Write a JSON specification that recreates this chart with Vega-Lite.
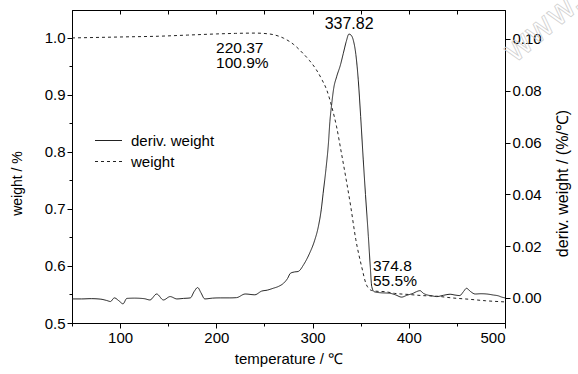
{
  "$schema": "https://vega.github.io/schema/vega-lite/v6.json",
  "width": 433,
  "height": 313,
  "autosize": {"type": "none"},
  "padding": {"left": 72, "top": 10, "right": 73, "bottom": 51},
  "background": "white",
  "config": {
    "font": "Liberation Sans",
    "view": {"stroke": "black", "strokeWidth": 1},
    "axis": {
      "labelFontSize": 15, "titleFontSize": 14, "titleFontWeight": "normal",
      "labelColor": "black", "titleColor": "black", "domainColor": "black",
      "tickColor": "black", "grid": false, "labelFont": "Liberation Sans", "titleFont": "Liberation Sans"
    },
    "legend": {"labelFont": "Liberation Sans"}
  },
  "datasets": {
    "weight": [
      {"T": 50, "w": 1.000}, {"T": 80, "w": 1.001}, {"T": 110, "w": 1.002}, {"T": 140, "w": 1.003},
      {"T": 170, "w": 1.005}, {"T": 200, "w": 1.007}, {"T": 220, "w": 1.008}, {"T": 240, "w": 1.0085},
      {"T": 255, "w": 1.007}, {"T": 265, "w": 1.003}, {"T": 270, "w": 0.9995}, {"T": 280, "w": 0.989},
      {"T": 290, "w": 0.973}, {"T": 297, "w": 0.960}, {"T": 304, "w": 0.944}, {"T": 310, "w": 0.926},
      {"T": 314.7, "w": 0.909}, {"T": 320, "w": 0.879}, {"T": 325, "w": 0.844}, {"T": 330, "w": 0.798},
      {"T": 335, "w": 0.751}, {"T": 339.7, "w": 0.704}, {"T": 345, "w": 0.646}, {"T": 351, "w": 0.599},
      {"T": 356, "w": 0.567}, {"T": 361.5, "w": 0.557}, {"T": 368, "w": 0.5555}, {"T": 375, "w": 0.555},
      {"T": 385, "w": 0.552}, {"T": 400, "w": 0.550}, {"T": 415, "w": 0.548}, {"T": 429, "w": 0.547},
      {"T": 445, "w": 0.544}, {"T": 463, "w": 0.5416}, {"T": 480, "w": 0.539}, {"T": 500, "w": 0.537}
    ],
    "deriv": [
      {"T": 50, "d": -0.0004}, {"T": 60, "d": -0.0004}, {"T": 70, "d": -0.0003}, {"T": 80, "d": -0.0005},
      {"T": 86, "d": -0.0010}, {"T": 90, "d": -0.0014}, {"T": 94, "d": 0.0000}, {"T": 99, "d": -0.0012},
      {"T": 103, "d": -0.0023}, {"T": 107, "d": -0.0002}, {"T": 115, "d": -0.0001}, {"T": 125, "d": -0.0003},
      {"T": 131, "d": -0.0008}, {"T": 138, "d": 0.0015}, {"T": 145, "d": -0.0008}, {"T": 152, "d": 0.0005},
      {"T": 159, "d": -0.0004}, {"T": 166, "d": -0.0002}, {"T": 173, "d": 0.0000}, {"T": 177, "d": 0.0025},
      {"T": 180.6, "d": 0.0040}, {"T": 184, "d": 0.0020}, {"T": 188, "d": -0.0004}, {"T": 196, "d": -0.0001},
      {"T": 204, "d": 0.0000}, {"T": 214, "d": 0.0000}, {"T": 221, "d": 0.0001}, {"T": 230, "d": 0.0015},
      {"T": 240, "d": 0.0012}, {"T": 247, "d": 0.0026}, {"T": 253, "d": 0.0030}, {"T": 259, "d": 0.0037},
      {"T": 265, "d": 0.0045}, {"T": 270, "d": 0.0057}, {"T": 274, "d": 0.0075}, {"T": 277, "d": 0.0095},
      {"T": 281, "d": 0.0100}, {"T": 285, "d": 0.0102}, {"T": 291, "d": 0.0130}, {"T": 297, "d": 0.0173},
      {"T": 302, "d": 0.0220}, {"T": 306, "d": 0.0275}, {"T": 309, "d": 0.0340}, {"T": 311, "d": 0.0404},
      {"T": 314, "d": 0.0500}, {"T": 316.5, "d": 0.0597}, {"T": 318, "d": 0.0680}, {"T": 320, "d": 0.0752},
      {"T": 322, "d": 0.0810}, {"T": 325, "d": 0.0854}, {"T": 329, "d": 0.0900}, {"T": 332, "d": 0.0945},
      {"T": 335, "d": 0.0990}, {"T": 337.8, "d": 0.1019}, {"T": 340, "d": 0.1015}, {"T": 342.3, "d": 0.0996},
      {"T": 345, "d": 0.0940}, {"T": 347.5, "d": 0.0842}, {"T": 350, "d": 0.0700}, {"T": 352.7, "d": 0.0533},
      {"T": 355, "d": 0.0400}, {"T": 358, "d": 0.0237}, {"T": 360, "d": 0.0120}, {"T": 361.5, "d": 0.0044},
      {"T": 364, "d": 0.0024}, {"T": 370, "d": 0.0020}, {"T": 380, "d": 0.0018}, {"T": 386, "d": 0.0012},
      {"T": 392.6, "d": 0.0003}, {"T": 398, "d": 0.0010}, {"T": 404.7, "d": 0.0018}, {"T": 408, "d": 0.0024},
      {"T": 411.7, "d": 0.0028}, {"T": 415, "d": 0.0018}, {"T": 418.6, "d": 0.0012}, {"T": 424, "d": 0.0008},
      {"T": 429, "d": 0.0005}, {"T": 436, "d": 0.0010}, {"T": 443, "d": 0.0014}, {"T": 448, "d": 0.0011},
      {"T": 453, "d": 0.0009}, {"T": 457, "d": 0.0025}, {"T": 460, "d": 0.0037}, {"T": 464, "d": 0.0025},
      {"T": 469, "d": 0.0015}, {"T": 475, "d": 0.0016}, {"T": 481, "d": 0.0015}, {"T": 488, "d": 0.0011},
      {"T": 493, "d": 0.0008}, {"T": 496.6, "d": 0.0003}, {"T": 500, "d": 0.0000}
    ],
    "notes": [
      {"T": 338, "d": 0.1058, "label": "337.82", "size": "big"},
      {"T": 199.7, "d": 0.0967, "label": "220.37\n100.9%", "size": "small"},
      {"T": 362.8, "d": 0.0124, "label": "374.8\n55.5%", "size": "small"}
    ],
    "mark": [
      {"T": 539.5, "d": 0.1046, "label": "www."}
    ]
  },
  "resolve": {"scale": {"y": "independent"}, "axis": {"x": "independent"}},
  "layer": [
    {
      "data": {"name": "weight"},
      "mark": {"type": "line", "stroke": "#222", "strokeWidth": 1, "interpolate": "monotone"},
      "encoding": {
        "x": {
          "field": "T", "type": "quantitative",
          "scale": {"domain": [50, 500], "nice": false, "zero": false},
          "axis": {
            "orient": "bottom", "title": "temperature / ℃", "titleFontSize": 15,
            "values": [50, 100, 150, 200, 250, 300, 350, 400, 450, 500],
            "labelExpr": "datum.value % 100 === 0 ? datum.label : ''",
            "tickSize": {"expr": "datum.value % 100 === 0 ? 5 : 3"},
            "labelPadding": 2, "titlePadding": 6
          }
        },
        "y": {
          "field": "w", "type": "quantitative",
          "scale": {"domain": [0.5, 1.049], "nice": false, "zero": false},
          "axis": {
            "orient": "left", "title": "weight / %", "titleY": 173,
            "values": [0.5, 0.55, 0.6, 0.65, 0.7, 0.75, 0.8, 0.85, 0.9, 0.95, 1.0],
            "labelExpr": "abs(datum.value * 10 - round(datum.value * 10)) < 0.001 ? format(datum.value, '.1f') : ''",
            "tickSize": {"expr": "abs(datum.value * 10 - round(datum.value * 10)) < 0.001 ? 5 : 3"},
            "labelPadding": 2, "titlePadding": 20
          }
        },
        "strokeDash": {
          "datum": "weight", "type": "nominal",
          "scale": {"domain": ["deriv. weight", "weight"], "range": [[1, 0], [3, 3]]},
          "legend": {
            "title": null, "orient": "none", "legendX": 29, "legendY": 123,
            "symbolType": "M-3,0H3", "symbolSize": 81, "symbolStrokeWidth": 1,
            "symbolStrokeColor": "black", "symbolFillColor": "transparent",
            "labelFontSize": 15, "labelColor": "black", "labelOffset": 15, "rowPadding": 5
          }
        }
      }
    },
    {
      "layer": [
        {
          "data": {"name": "deriv"},
          "mark": {"type": "line", "stroke": "#222", "strokeWidth": 1, "interpolate": "monotone"},
          "encoding": {
            "x": {
              "field": "T", "type": "quantitative",
              "axis": {
                "orient": "top", "title": null, "labels": false, "domain": false,
                "values": [50, 100, 150, 200, 250, 300, 350, 400, 450, 500],
                "tickSize": -4
              }
            },
            "y": {
              "field": "d", "type": "quantitative",
              "scale": {"domain": [-0.0097, 0.1112], "nice": false, "zero": false},
              "axis": {
                "orient": "right", "title": "deriv. weight / (%/℃)", "titleAngle": -90,
                "titleFontSize": 16, "titleY": 173,
                "values": [0, 0.01, 0.02, 0.03, 0.04, 0.05, 0.06, 0.07, 0.08, 0.09, 0.1],
                "labelExpr": "round(datum.value * 100) % 2 === 0 ? format(datum.value, '.2f') : ''",
                "tickSize": {"expr": "round(datum.value * 100) % 2 === 0 ? 5 : 3"},
                "labelPadding": 2, "titlePadding": 29
              }
            },
            "strokeDash": {"datum": "deriv. weight", "type": "nominal"}
          }
        },
        {
          "data": {"name": "notes"},
          "mark": {"type": "text", "align": "left", "baseline": "middle", "lineBreak": "\n", "lineHeight": 15, "color": "black"},
          "transform": [{"filter": "datum.size === 'small'"}],
          "encoding": {
            "x": {"field": "T", "type": "quantitative"},
            "y": {"field": "d", "type": "quantitative"},
            "text": {"field": "label"},
            "size": {"value": 15.5}
          }
        },
        {
          "data": {"name": "notes"},
          "mark": {"type": "text", "align": "center", "baseline": "middle", "color": "black"},
          "transform": [{"filter": "datum.size === 'big'"}],
          "encoding": {
            "x": {"field": "T", "type": "quantitative"},
            "y": {"field": "d", "type": "quantitative"},
            "text": {"field": "label"},
            "size": {"value": 16}
          }
        },
        {
          "data": {"name": "mark"},
          "mark": {"type": "text", "align": "center", "baseline": "middle", "angle": 320, "fill": "white", "fillOpacity": 0, "stroke": "#cfcfcf", "strokeWidth": 0.8, "font": "DejaVu Sans"},
          "encoding": {
            "x": {"field": "T", "type": "quantitative"},
            "y": {"field": "d", "type": "quantitative"},
            "text": {"field": "label"},
            "size": {"value": 34}
          }
        }
      ]
    }
  ]
}
